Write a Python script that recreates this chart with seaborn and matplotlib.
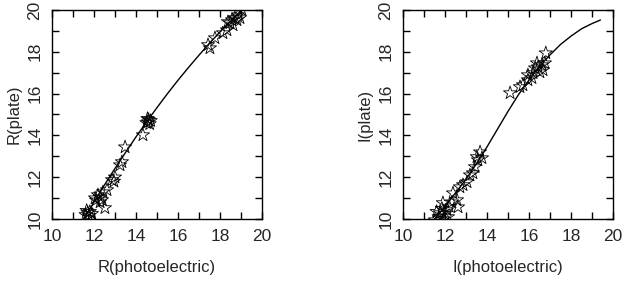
import numpy as np
import pandas as pd
import matplotlib
matplotlib.use("Agg")
import matplotlib.pyplot as plt
from matplotlib.ticker import MultipleLocator
import seaborn as sns

# R band: photoelectric vs plate magnitudes
r_pe = [11.6, 11.7, 11.75, 11.8, 11.9, 11.65,
        12.05, 12.19, 12.38, 12.52, 12.43, 12.62, 12.29, 12.1, 12.3,
        12.86, 13.0, 12.95, 13.24, 13.33, 13.48,
        14.33, 14.5, 14.6, 14.7, 14.55, 14.65, 14.57,
        17.43, 17.52, 17.76, 18.14, 18.33, 18.38, 18.48, 18.57, 18.62,
        18.71, 18.81, 18.95, 19.05, 18.86]
r_pl = [10.2, 10.3, 10.15, 10.35, 10.25, 10.4,
        11.0, 11.15, 10.91, 10.53, 11.29, 11.39, 10.81, 10.9, 11.05,
        11.87, 12.0, 11.8, 12.58, 12.73, 13.44,
        14.02, 14.6, 14.75, 14.7, 14.8, 14.55, 14.64,
        18.33, 18.18, 18.66, 18.9, 19.04, 19.43, 19.38, 19.52, 19.28,
        19.62, 19.52, 19.62, 20.0, 19.76]

# R calibration curve
r_curve_x = [11.5, 12.0, 12.5, 13.0, 13.5, 14.0, 14.5, 15.0, 15.5, 16.0,
             16.5, 17.0, 17.5, 18.0, 18.5, 19.0, 19.5]
r_curve_y = [9.97, 10.81, 11.63, 12.42, 13.18, 13.93, 14.64, 15.33, 16.0, 16.64,
             17.25, 17.84, 18.41, 18.95, 19.46, 19.95, 20.41]

# I band
i_pe = [11.52, 11.76, 12.1, 11.9, 12.33, 12.14, 12.57, 12.38, 12.71, 12.86,
        13.05, 13.19, 12.62, 11.7, 11.95, 12.0, 11.85, 12.2, 11.6,
        13.33, 13.43, 13.57, 13.76, 13.67, 13.52,
        15.1, 15.57, 15.71, 15.95, 16.14, 15.95, 16.19, 16.29, 16.43, 16.62,
        16.67, 16.52, 16.38, 16.76, 16.8]
i_pl = [9.95, 10.29, 10.43, 10.77, 10.81, 10.1, 10.91, 11.24, 11.53, 11.63,
        11.77, 12.1, 10.57, 10.1, 10.0, 10.25, 10.5, 10.6, 10.35,
        12.2, 12.49, 12.82, 12.92, 13.2, 12.97,
        16.03, 16.32, 16.41, 16.65, 16.75, 16.89, 16.99, 17.22, 17.27, 17.37,
        17.13, 17.03, 17.46, 17.46, 17.94]

i_curve_x = [11.5, 12.0, 12.5, 13.0, 13.5, 14.0, 14.5, 15.0, 15.5, 16.0,
             16.5, 17.0, 17.5, 18.0, 18.5, 19.0, 19.4]
i_curve_y = [10.0, 10.6, 11.25, 11.9, 12.65, 13.45, 14.3, 15.15, 15.95, 16.65,
             17.3, 17.85, 18.35, 18.75, 19.1, 19.35, 19.52]

sns.set_theme(style="ticks")
plt.rcParams['font.family'] = ['Liberation Sans', 'DejaVu Sans']

fig = plt.figure(figsize=(6.24, 2.81), dpi=100)
ax1 = fig.add_axes([52 / 624, 62 / 281, 210 / 624, 209 / 281])
ax2 = fig.add_axes([403 / 624, 62 / 281, 210 / 624, 209 / 281])

panels = [
    (ax1, r_pe, r_pl, r_curve_x, r_curve_y, "R(photoelectric)", "R(plate)"),
    (ax2, i_pe, i_pl, i_curve_x, i_curve_y, "I(photoelectric)", "I(plate)"),
]

for ax, px, py, cx, cy, xlab, ylab in panels:
    pts = pd.DataFrame({"x": px, "y": py})
    crv = pd.DataFrame({"x": cx, "y": cy})
    sns.lineplot(data=crv, x="x", y="y", ax=ax, color="black", lw=1.0,
                 sort=False, estimator=None)
    sns.scatterplot(data=pts, x="x", y="y", ax=ax, marker="*", s=100,
                    facecolor="none", edgecolor="black", linewidth=0.6)
    ax.set_xlim(10, 20)
    ax.set_ylim(10, 20)
    ax.xaxis.set_major_locator(MultipleLocator(2))
    ax.xaxis.set_minor_locator(MultipleLocator(1))
    ax.yaxis.set_major_locator(MultipleLocator(2))
    ax.yaxis.set_minor_locator(MultipleLocator(1))
    ax.tick_params(which="both", direction="in", top=True, right=True,
                   length=5, width=1, color="black", labelsize=12.5, pad=7)
    for lab in ax.get_yticklabels():
        lab.set_rotation(90)
        lab.set_va("center")
    for sp in ax.spines.values():
        sp.set_visible(True)
        sp.set_color("black")
        sp.set_linewidth(1)
    ax.set_xlabel(xlab, fontsize=12, labelpad=12)
    ax.set_ylabel(ylab, fontsize=12, labelpad=4)

fig.savefig("out.png", dpi=100)
